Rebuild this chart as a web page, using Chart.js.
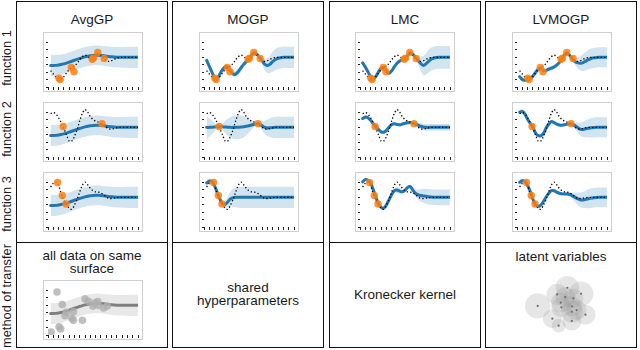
<!DOCTYPE html>
<html><head><meta charset="utf-8">
<script src="https://cdn.jsdelivr.net/npm/chart.js@4.4.1/dist/chart.umd.min.js"></script>
<style>
html,body{margin:0;padding:0;background:#fff}
body{width:640px;height:350px;position:relative;overflow:hidden;font-family:"Liberation Sans",Arial,sans-serif;color:#1a1a1a}
.col{position:absolute;top:1px;width:152px;height:347px;border:1.5px solid #111;box-sizing:border-box}
.hl{position:absolute;height:0;border-top:1.5px solid #111}
.plot{position:absolute;width:100px;height:60px;border:1px solid #cfcfcf;box-sizing:border-box;background:#fff}
.plot canvas{position:absolute;left:0;top:0}
.t{position:absolute;text-align:center;white-space:nowrap;font-size:13.5px;line-height:13px}
.r{position:absolute;width:140px;text-align:center;white-space:nowrap;font-size:12.8px;line-height:12px;transform:rotate(-90deg)}
</style></head>
<body>
<script>
// ---------- data ----------
const xs = [0.5,1,1.5,2,2.5,3,3.5,4,4.5,5,5.5,6,6.5,7,7.5,8,8.5,9,9.5,10,10.5,11,11.5,12,12.5,13,13.5,14,14.5,15,15.5,16,16.5,17];

const trueF1 = [-1.8,-2.25,-2.65,-2.95,-2.95,-2.6,-2.1,-1.65,-1.35,-1.15,-0.8,-0.3,0.1,0.3,0.1,-0.15,-0.1,0.3,0.5,0.3,-0.1,-0.45,-0.55,-0.45,-0.25,-0.1,-0.03,0,0,0,0,0,0,0];
const trueF2 = [1.85,2.0,1.8,1.3,0.6,-0.2,-1.0,-1.85,-1.85,-1.2,-0.3,0.9,1.9,2.4,2.05,1.45,1.05,0.85,0.7,0.5,0.3,0.0,-0.2,-0.25,-0.15,-0.05,0,0,0,0,0,0,0,0];
const trueF3 = [1.4,1.9,2.05,1.6,0.5,-0.4,-1.0,-1.45,-1.6,-1.05,-0.25,0.75,1.65,2.05,1.7,1.2,0.9,0.75,0.7,0.6,0.35,0.05,-0.15,-0.15,-0.1,-0.03,0,0,0,0,0,0,0,0];

const obs1X = [2.05,2.3,4.4,4.9,8.35,8.6,9.4,10.6];
const obs1Y = [-2.8,-3.0,-1.35,-1.95,-0.25,-0.1,0.65,-0.15];
const obs2X = [2.85,10.2];
const obs2Y = [0.12,0.5];
const obs3X = [1.8,2.7,3.4];
const obs3Y = [2.0,0.25,-0.9];

const avgMean = [-1.1,-1.1,-1.08,-1.04,-0.97,-0.88,-0.77,-0.65,-0.52,-0.39,-0.26,-0.14,-0.03,0.07,0.15,0.21,0.25,0.27,0.27,0.25,0.21,0.16,0.11,0.07,0.04,0.02,0.01,0,0,0,0,0,0,0];
const avgStd = [1.45,1.42,1.4,1.38,1.36,1.35,1.34,1.33,1.32,1.32,1.32,1.32,1.32,1.32,1.32,1.32,1.32,1.32,1.32,1.33,1.33,1.34,1.35,1.36,1.37,1.38,1.39,1.4,1.41,1.42,1.43,1.44,1.45,1.45];

const mogpMean1 = [-0.4,-1.2,-2.0,-2.75,-2.85,-2.25,-1.65,-1.3,-1.35,-1.85,-2.25,-2.25,-1.9,-1.4,-0.95,-0.55,-0.15,0.3,0.62,0.4,0.0,-0.5,-0.95,-1.1,-0.9,-0.55,-0.28,-0.12,-0.04,0,0,0,0,0];
const mogpStd1 = [0.5,0.45,0.35,0.25,0.25,0.3,0.3,0.25,0.22,0.25,0.35,0.45,0.5,0.45,0.38,0.3,0.22,0.22,0.22,0.22,0.25,0.45,0.75,1.0,1.2,1.35,1.42,1.45,1.45,1.45,1.45,1.45,1.45,1.45];
const mogpMean2 = [0,0,0.02,0.05,0.09,0.1,0.08,0.05,0.02,0,0,0,0.02,0.04,0.08,0.14,0.22,0.32,0.42,0.49,0.42,0.2,0.0,-0.08,-0.05,-0.02,0,0,0,0,0,0,0,0];
const mogpStd2 = [1.6,1.25,0.9,0.55,0.28,0.2,0.45,0.85,1.15,1.38,1.52,1.6,1.6,1.55,1.42,1.2,0.9,0.6,0.32,0.2,0.3,0.6,0.9,1.12,1.28,1.38,1.43,1.45,1.45,1.45,1.45,1.45,1.45,1.45];
const mogpMean3 = [1.95,2.2,2.15,1.55,0.65,-0.2,-0.85,-0.95,-0.6,-0.2,-0.05,0,0,0,0,0,0,0,0,0,0,0,0,0,0,0,0,0,0,0,0,0,0,0];
const mogpStd3 = [0.4,0.3,0.2,0.2,0.2,0.2,0.25,0.45,0.75,1.0,1.2,1.32,1.4,1.45,1.45,1.45,1.45,1.45,1.45,1.45,1.45,1.45,1.45,1.45,1.45,1.45,1.45,1.45,1.45,1.45,1.45,1.45,1.45,1.45];

const lmcMean1 = [-0.75,-1.3,-1.95,-2.6,-2.9,-2.55,-1.95,-1.45,-1.4,-1.9,-2.15,-1.8,-1.25,-0.8,-0.5,-0.33,-0.2,0.25,0.65,0.4,0.0,-0.45,-0.85,-1.1,-0.85,-0.5,-0.22,-0.08,-0.02,0,0,0,0,0];
const lmcStd1 = [0.25,0.22,0.2,0.2,0.2,0.2,0.2,0.2,0.2,0.2,0.22,0.22,0.22,0.22,0.22,0.2,0.2,0.2,0.2,0.2,0.22,0.5,1.0,1.3,1.45,1.55,1.55,1.55,1.55,1.55,1.55,1.55,1.55,1.55];
const lmcMean2 = [1.2,1.38,1.3,0.95,0.5,0.12,-0.3,-0.6,-0.65,-0.4,0.05,0.4,0.5,0.4,0.35,0.45,0.55,0.62,0.65,0.55,0.45,0.3,0.15,0.05,0,0,0,0,0,0,0,0,0,0];
const lmcStd2 = [0.3,0.25,0.2,0.2,0.2,0.2,0.2,0.2,0.2,0.2,0.2,0.2,0.2,0.2,0.2,0.2,0.2,0.2,0.2,0.2,0.2,0.3,0.4,0.45,0.45,0.45,0.45,0.45,0.45,0.45,0.45,0.45,0.45,0.45];
const lmcMean3 = [2.1,2.4,2.3,1.95,1.05,0.0,-0.85,-1.35,-1.45,-1.0,-0.3,0.4,0.9,1.0,0.85,0.75,0.95,1.35,1.45,0.95,0.55,0.35,0.25,0.2,0.15,0.08,0.04,0.01,0,0,0,0,0,0];
const lmcStd3 = [0.2,0.2,0.2,0.2,0.2,0.2,0.2,0.2,0.2,0.2,0.2,0.2,0.3,0.4,0.35,0.25,0.2,0.2,0.25,0.35,0.5,0.7,0.85,0.95,1.0,1.05,1.05,1.05,1.05,1.05,1.05,1.05,1.05,1.05];

const lvMean1 = [-2.6,-3.0,-3.1,-3.05,-2.85,-2.5,-2.05,-1.6,-1.5,-1.8,-1.75,-1.6,-1.45,-1.3,-1.05,-0.7,-0.2,0.35,0.6,0.2,-0.25,-0.6,-0.75,-0.8,-0.7,-0.5,-0.3,-0.15,-0.07,-0.03,0,0,0,0];
const lvStd1 = [0.4,0.3,0.25,0.2,0.2,0.2,0.2,0.2,0.2,0.22,0.28,0.32,0.35,0.35,0.32,0.25,0.2,0.2,0.2,0.2,0.25,0.45,0.75,1.0,1.15,1.25,1.32,1.35,1.35,1.35,1.35,1.35,1.35,1.35];
const lvMean2 = [2.05,2.15,1.8,1.1,0.55,0.05,-0.75,-1.1,-1.15,-0.8,-0.1,0.45,0.8,0.65,0.45,0.32,0.3,0.35,0.45,0.5,0.4,0.2,-0.05,-0.25,-0.28,-0.2,-0.12,-0.06,-0.03,0,0,0,0,0];
const lvStd2 = [0.35,0.3,0.22,0.2,0.2,0.2,0.2,0.2,0.2,0.2,0.2,0.2,0.2,0.2,0.2,0.2,0.2,0.2,0.2,0.2,0.25,0.45,0.7,0.9,1.05,1.15,1.25,1.3,1.35,1.35,1.35,1.35,1.35,1.35];
const lvMean3 = [2.05,2.25,2.15,1.6,0.8,-0.25,-0.95,-1.2,-1.05,-0.55,0.05,0.55,0.9,0.9,0.7,0.55,0.47,0.45,0.47,0.38,0.2,0.0,-0.2,-0.35,-0.35,-0.27,-0.18,-0.1,-0.05,-0.02,0,0,0,0];
const lvStd3 = [0.35,0.3,0.22,0.2,0.2,0.2,0.2,0.2,0.2,0.2,0.2,0.2,0.2,0.2,0.2,0.2,0.2,0.2,0.22,0.3,0.45,0.65,0.85,1.0,1.1,1.2,1.28,1.32,1.32,1.32,1.32,1.32,1.32,1.32];

const pooledX = [0.6,1.7,2.1,2.4,2.7,3.2,3.45,4.5,4.8,4.8,6.5,7.0,7.6,8.5,8.9,9.4,9.5,10.5,11.2];
const pooledY = [-3.6,1.8,-2.9,-3.2,0.12,-1.4,-0.95,-1.75,-0.85,-2.0,-2.0,0.85,0.55,-0.1,0.35,0.5,0.0,-0.35,-0.1];

const latentX = [-1.415,0.465,1.335,-0.185,0.335,0.85,0.05,0.085,0.765,1.05,0.75,1.615,-0.485,0.75,-0.085];
const latentY = [-0.335,0.965,0.535,0.485,0.3,0.2,-0.1,-0.435,-0.365,-0.635,-0.75,-0.965,-1.25,-1.415,-1.75];
const latentR = [12.7,11.7,12.3,10.7,10,10,10,10,10,10,11,10,9.5,9.5,7];

const methods = ["AvgGP","MOGP","LMC","LVMOGP"];
const rowLabels = ["function 1","function 2","function 3","method of transfer"];
const transferText = [["all data on same","surface"],["shared","hyperparameters"],["Kronecker kernel"],["latent variables"]];

const panels = [
  [[avgMean,avgStd],[avgMean,avgStd],[avgMean,avgStd]],
  [[mogpMean1,mogpStd1],[mogpMean2,mogpStd2],[mogpMean3,mogpStd3]],
  [[lmcMean1,lmcStd1],[lmcMean2,lmcStd2],[lmcMean3,lmcStd3]],
  [[lvMean1,lvStd1],[lvMean2,lvStd2],[lvMean3,lvStd3]]
];
const truths = [trueF1,trueF2,trueF3];
const obsXs = [obs1X,obs2X,obs3X];
const obsYs = [obs1Y,obs2Y,obs3Y];

// ---------- layout ----------
const colLeft = [16,172,329,485];
const plotLeft = [43,199,355,512];
const plotTop = [32,102,172];

function el(tag, cls, style, text){
  const e=document.createElement(tag); if(cls) e.className=cls;
  Object.assign(e.style, style||{}); if(text!=null) e.textContent=text;
  document.body.appendChild(e); return e;
}
colLeft.forEach(l=>{
  el('div','col',{left:l+'px'});
  el('div','hl',{left:l+'px',top:'242px',width:'152px'});
});
methods.forEach((m,c)=>el('div','t',{left:(colLeft[c])+'px',width:'152px',top:'12.5px'},m));
const rowCenters=[58,129,204,296];
rowLabels.forEach((r,i)=>el('div','r',{left:(7-70)+'px',top:(rowCenters[i]-6)+'px'},r));
const ttTops=[[248.5,261.5],[280.5,293.5],[287.5],[249.5]];
transferText.forEach((lines,c)=>lines.forEach((s,k)=>el('div','t',{left:colLeft[c]+'px',width:'152px',top:ttTops[c][k]+'px'},s)));

function makeCanvas(left, top){
  const box=el('div','plot',{left:left+'px',top:top+'px'});
  const cv=document.createElement('canvas'); cv.width=98; cv.height=58;
  cv.style.width='98px'; cv.style.height='58px'; box.appendChild(cv); return cv;
}
function pts(xa, ya){ return xa.map((x,i)=>({x:x, y:ya[i]})); }

function gpDatasets(mean, std, truth, ox, oy, lineColor, bandColor, ptColor, ptR){
  const ds = [
    {data: xs.map((x,i)=>({x, y: mean[i]+std[i]})), showLine:true, borderWidth:1, borderColor:'rgba(0,0,0,0)', pointRadius:0, fill:'+1', backgroundColor:bandColor, tension:0.3, order:4},
    {data: xs.map((x,i)=>({x, y: mean[i]-std[i]})), showLine:true, borderWidth:1, borderColor:'rgba(0,0,0,0)', pointRadius:0, fill:false, tension:0.3, order:5},
    {data: pts(xs, mean), showLine:true, borderWidth:3, borderColor:lineColor, pointRadius:0, tension:0.3, order:2, borderCapStyle:'round', borderJoinStyle:'round'}
  ];
  if (truth) ds.push({data: pts(xs, truth), showLine:true, borderWidth:1.3, borderColor:'#000', borderDash:[1.3,2.2], pointRadius:0, tension:0.3, order:1});
  ds.push({data: pts(ox, oy), showLine:false, pointRadius:ptR, pointBackgroundColor:ptColor, backgroundColor:ptColor, pointBorderWidth:0, borderWidth:0, order:0});
  return ds;
}
function gpChart(cv, datasets){
  return new Chart(cv, {
    type:'scatter',
    data:{datasets},
    options:{
      responsive:false, animation:false, devicePixelRatio:1, events:[],
      layout:{padding:{top:0,right:2.5,bottom:0,left:0}},
      plugins:{legend:{display:false}, tooltip:{enabled:false}},
      scales:{
        x:{type:'linear', min:0, max:17, border:{display:false},
           ticks:{display:false, stepSize:1},
           grid:{drawOnChartArea:false, tickLength:3, tickColor:'#222', tickWidth:1}},
        y:{type:'linear', min:-4, max:2.75, border:{display:false},
           ticks:{display:false, stepSize:1, includeBounds:false},
           grid:{drawOnChartArea:false, tickLength:2, tickColor:'#222', tickWidth:1}}
      }
    }
  });
}

for (let c=0;c<4;c++){
  for (let r=0;r<3;r++){
    const [m,s]=panels[c][r];
    const cv=makeCanvas(plotLeft[c], plotTop[r]);
    gpChart(cv, gpDatasets(m, s, truths[r], obsXs[r], obsYs[r], '#1f77b4', 'rgba(31,119,180,0.2)', 'rgba(255,127,14,0.85)', 3.7));
  }
}
// pooled AvgGP view
const cvp = makeCanvas(43, 280);
gpChart(cvp, gpDatasets(avgMean, avgStd, null, pooledX, pooledY, '#7f7f7f', 'rgba(140,140,140,0.2)', 'rgba(175,175,175,0.8)', 3.8));

// latent variables bubble chart
const lb = document.createElement('canvas'); lb.width=120; lb.height=84;
Object.assign(lb.style,{position:'absolute',left:'500px',top:'262px',width:'120px',height:'84px'});
document.body.appendChild(lb);
new Chart(lb, {
  type:'bubble',
  data:{datasets:[
    {data: latentX.map((x,i)=>({x, y:latentY[i], r:1.1})), backgroundColor:'#6e6e6e', borderWidth:0, clip:false, order:0},
    {data: latentX.map((x,i)=>({x, y:latentY[i], r:latentR[i]})), backgroundColor:'rgba(150,150,150,0.24)', borderWidth:0, clip:false, order:1}
  ]},
  options:{responsive:false, animation:false, devicePixelRatio:1, events:[],
    layout:{padding:0},
    plugins:{legend:{display:false}, tooltip:{enabled:false}},
    scales:{x:{display:false, min:-3, max:3}, y:{display:false, min:-2.3, max:1.9}}}
});
</script>
</body></html>
